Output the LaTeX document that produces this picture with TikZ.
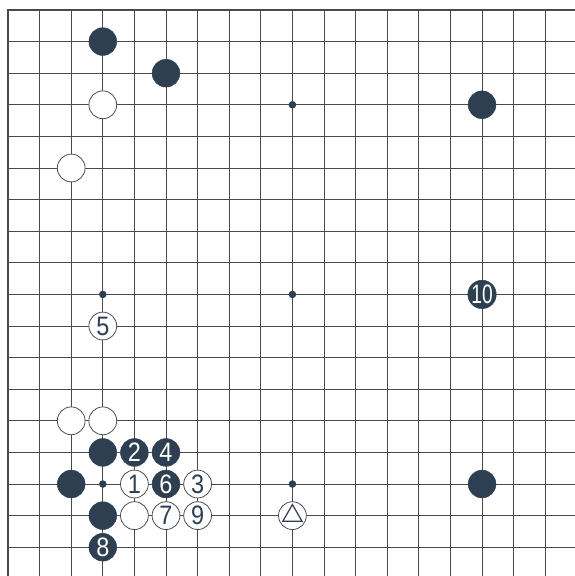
\documentclass[tikz,border=0pt]{standalone}
\usepackage{fontspec}
\setsansfont{Liberation Sans}
\usetikzlibrary{positioning, shapes.geometric}

\definecolor{stoneblk}{HTML}{2E3F52}
\definecolor{gridln}{HTML}{4A4A4A}
\newcommand{\mvnum}[1]{\scalebox{0.88}[1]{#1}}

\begin{document}
\begin{tikzpicture}[
  x=1cm, y=-1cm,
  font=\sffamily\fontsize{24}{24}\selectfont,
  bstone/.style={circle, fill=stoneblk, draw=stoneblk, minimum size=0.88cm, inner sep=0pt, text=white},
  wstone/.style={circle, fill=white, draw=gridln, line width=0.7pt, minimum size=0.88cm, inner sep=0pt, text=stoneblk},
  hoshi/.style={circle, fill=stoneblk, minimum size=0.24cm, inner sep=0pt},
  gridline/.style={draw=gridln, line width=0.8pt},
  edgeline/.style={draw=gridln, line width=1.6pt}
]
\useasboundingbox (-0.253,-0.316) rectangle (17.94,17.91);
\clip (-0.253,-0.316) rectangle (17.94,17.91);

% board
\foreach \i in {0,...,18} {
  \draw[gridline] (\i,0) -- (\i,18.5);
  \draw[gridline] (0,\i) -- (18.5,\i);
}
\draw[edgeline] (0,18.5) -- (0,0) -- (18.5,0);

% star points
\node[hoshi] (s93) at (9,3) {};
\node[hoshi] (s39) at (3,9) {};
\node[hoshi] (s99) at (9,9) {};
\node[hoshi] (s315) at (3,15) {};
\node[hoshi] (s915) at (9,15) {};

% stones already on the board
\node[bstone] (b31) at (3,1) {};
\node[bstone] (b52) at (5,2) {};
\node[wstone] (w33) at (3,3) {};
\node[wstone] (w25) at (2,5) {};
\node[bstone] (b153) at (15,3) {};
\node[bstone] (b1515) at (15,15) {};
\node[wstone] (w213) at (2,13) {};
\node[wstone] (w313) at (3,13) {};
\node[bstone] (b314) at (3,14) {};
\node[bstone] (b215) at (2,15) {};
\node[bstone] (b316) at (3,16) {};
\node[wstone] (w416) at (4,16) {};
\node[wstone] (tri) at (9,16) {};
\node[draw=stoneblk, line width=1.1pt, regular polygon, regular polygon sides=3, minimum size=0.7cm, inner sep=0pt] (trimark) at (9,16) {};

% moves
\node[wstone] (m1) at (4,15) {\mvnum{1}};
\node[bstone] (m2) at (4,14) {\mvnum{2}};
\node[wstone] (m3) at (6,15) {\mvnum{3}};
\node[bstone] (m4) at (5,14) {\mvnum{4}};
\node[wstone] (m5) at (3,10) {\mvnum{5}};
\node[bstone] (m6) at (5,15) {\mvnum{6}};
\node[wstone] (m7) at (5,16) {\mvnum{7}};
\node[bstone] (m8) at (3,17) {\mvnum{8}};
\node[wstone] (m9) at (6,16) {\mvnum{9}};
\node[bstone] (m10) at (15,9) {\scalebox{0.72}[1]{10}};
\end{tikzpicture}
\end{document}
